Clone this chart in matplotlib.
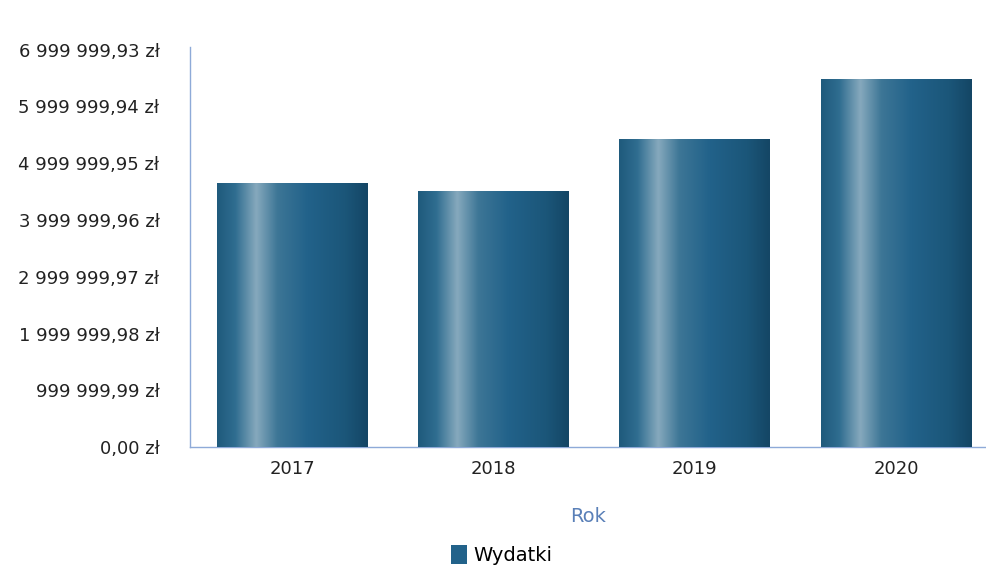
import numpy as np
import matplotlib
matplotlib.use("Agg")
import matplotlib.pyplot as plt
import matplotlib.ticker as mtick
from matplotlib.colors import LinearSegmentedColormap
from matplotlib.patches import Patch

plt.rcParams['font.family'] = ['DejaVu Sans']

years = ['2017', '2018', '2019', '2020']
wydatki = [4656000., 4515000., 5430000., 6490000.]
tick_step = 999999.99
n_ticks = 8

# cylinder shading: dark edges, light streak left of centre
cyl = LinearSegmentedColormap.from_list('cyl', [
    (0.00, '#1f5a7c'), (0.12, '#2f6d90'), (0.26, '#86a9bd'),
    (0.40, '#3d7696'), (0.60, '#22628a'), (0.85, '#1b5679'),
    (1.00, '#144665')])

def pl_money(v, pos=None):
    s = f"{v:,.2f}".replace(',', ' ').replace('.', ',')
    return s + " zł"

fig = plt.figure(figsize=(9.87, 5.71), dpi=100)
ax = fig.add_axes([0.1925, 0.217, 0.807, 0.701])

x = np.arange(len(years))
bars = ax.bar(x, wydatki, width=0.75, color='#22628a', zorder=2)

grad = np.linspace(0, 1, 256).reshape(1, -1)
for b in bars:
    x0, y0 = b.get_x(), b.get_y()
    w, h = b.get_width(), b.get_height()
    im = ax.imshow(grad, cmap=cyl, aspect='auto', extent=(x0, x0 + w, y0, y0 + h),
                   zorder=3, interpolation='bicubic')
    im.set_clip_path(b)

ax.set_xlim(-0.51, 3.45)
ax.set_ylim(0, 7.05e6)
ax.set_xticks(x)
ax.set_xticklabels(years)
ax.set_yticks([i * tick_step for i in range(n_ticks)])
ax.yaxis.set_major_formatter(mtick.FuncFormatter(pl_money))
ax.tick_params(axis='both', length=0, labelsize=13, colors='#222222', pad=9)
ax.tick_params(axis='y', pad=22)

for s in ['top', 'right']:
    ax.spines[s].set_visible(False)
for s in ['left', 'bottom']:
    ax.spines[s].set_color('#8eaad8')
    ax.spines[s].set_linewidth(1.0)

ax.set_xlabel('Rok', color='#5a80b8', fontsize=14, labelpad=21)

fig.legend(handles=[Patch(facecolor='#22628a', label='Wydatki')],
           loc='center', bbox_to_anchor=(0.508, 0.028), frameon=False,
           fontsize=14, handlelength=0.85, handleheight=1.1, handletextpad=0.3)

fig.savefig('out.png', dpi=100)
